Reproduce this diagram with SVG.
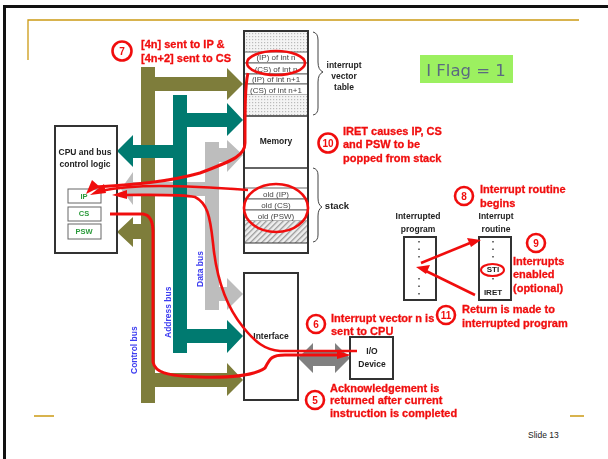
<svg xmlns="http://www.w3.org/2000/svg" width="608" height="459" viewBox="0 0 608 459">
<defs>
<pattern id="dots" width="3" height="3" patternUnits="userSpaceOnUse"><rect width="3" height="3" fill="#f4f4f4"/><rect width="1.2" height="1.2" fill="#bbb"/></pattern>
<pattern id="diag" width="4" height="4" patternUnits="userSpaceOnUse" patternTransform="rotate(45)"><rect width="4" height="4" fill="#eee"/><rect width="1.3" height="4" fill="#999"/></pattern>
<filter id="soft" x="-2%" y="-2%" width="104%" height="104%"><feGaussianBlur stdDeviation="0.45"/></filter>
</defs>
<style>
text{font-family:"Liberation Sans",Arial,sans-serif}
.box{fill:#fff;stroke:#333;stroke-width:2}
.cell{fill:#fff;stroke:#666;stroke-width:1}
.lbl{font-size:8.5px;font-weight:bold;fill:#222;text-anchor:middle}
.cellt{font-size:8px;fill:#444;text-anchor:middle}
.red{font-size:11px;font-weight:bold;fill:#f01010;stroke:#f01010;stroke-width:.3}
.num{font-size:10px;font-weight:bold;fill:#f01010;text-anchor:middle}
.bus{font-size:8.5px;font-weight:bold;fill:#3c3cf0}
.reg{font-size:7.5px;font-weight:bold;fill:#2a9a3a;text-anchor:middle}
.rl{fill:none;stroke:#f01010;stroke-width:2.6}
.rr{fill:#f01010}
</style>
<rect x="0" y="0" width="608" height="459" fill="#fff"/>
<path d="M4.5 459V6.5H608" fill="none" stroke="#111" stroke-width="3"/>
<path d="M28 60V20H579" fill="none" stroke="#cc9a14" stroke-width="1.3"/>
<path d="M34 416H54M570 416H584" fill="none" stroke="#cc9a14" stroke-width="1.5"/>
<text x="528" y="438" font-size="8.5" fill="#222">Slide 13</text>
<g filter="url(#soft)">
<g id="iflag"><rect x="420" y="55" width="93" height="28" fill="#9cf060"/><text x="466" y="76" font-size="16.5" fill="#5a6a80" text-anchor="middle" style="font-family:'DejaVu Sans',sans-serif">I Flag = 1</text></g>
<g id="connectors">
<path id="control-bus" fill="#7e7d3a" d="M141 67H155V77H227V68L243 84 227 100V91H155V373H227V363L243 380 227 396V387H155V403H141V239H133V247L117 232 133 217V224H141Z"/>
<path id="data-bus" fill="#bdbdbd" d="M205 142H219V148H227V140L243 155 227 172V162H219V287H227V278L243 294 227 310V301H219V310H205V196H133V205L121 189 133 172V182H205Z"/>
<path id="address-bus" fill="#007a70" d="M173 95H187V113H227V103L243 120 227 136V127H187V329H227V320L243 336 227 353V343H187V353H173V158H133V167L117 151 133 135V145H173Z"/>
<path id="io-arrows" fill="#808080" d="M298 358L313 343V351H335V343L350 358 335 373V366H313V373Z"/>
</g>
<g id="ivt">
<rect x="244" y="31" width="64" height="21" fill="url(#dots)"/>
<rect class="cell" x="244" y="52" width="64" height="11"/><text class="cellt" x="276" y="60">(IP) of int n</text>
<rect class="cell" x="244" y="63" width="64" height="11"/><text class="cellt" x="276" y="71.500">(CS) of int n</text>
<rect class="cell" x="244" y="74" width="64" height="10"/><text class="cellt" x="276" y="82">(IP) of int n+1</text>
<rect class="cell" x="244" y="84" width="64" height="11"/><text class="cellt" x="276" y="92.500">(CS) of int n+1</text>
<rect x="244" y="95" width="64" height="21" fill="url(#dots)"/>
</g>
<g id="memory"><rect x="244" y="116" width="64" height="52" fill="#fff"/><path d="M244 116H308M244 168H308" stroke="#333" stroke-width="1.500"/><text class="lbl" x="276" y="144">Memory</text></g>
<g id="stack">
<rect class="cell" x="244" y="188" width="64" height="11"/><text class="cellt" x="276" y="196.500">old (IP)</text>
<rect class="cell" x="244" y="199" width="64" height="11"/><text class="cellt" x="276" y="207.500">old (CS)</text>
<rect class="cell" x="244" y="210" width="64" height="11"/><text class="cellt" x="276" y="218.500">old (PSW)</text>
<rect x="244" y="221" width="64" height="22" fill="url(#diag)"/>
<path d="M244 243H308" stroke="#333"/>
<rect x="244" y="31" width="64" height="222" fill="none" stroke="#333" stroke-width="2"/>
</g>
<g id="cpu"><rect class="box" x="55" y="126" width="62" height="127"/><text class="lbl" x="85" y="155">CPU and bus</text><text class="lbl" x="85" y="167">control logic</text>
<rect class="cell" x="68" y="189" width="33" height="14"/><text class="reg" x="84" y="199">IP</text>
<rect class="cell" x="68" y="207" width="33" height="14"/><text class="reg" x="84" y="216">CS</text>
<rect class="cell" x="68" y="224" width="33" height="15"/><text class="reg" x="84" y="234">PSW</text></g>
<g id="interface"><rect class="box" x="244" y="273" width="54" height="127"/><text class="lbl" x="271" y="339">Interface</text></g>
<g id="io"><rect class="box" x="350" y="337" width="43" height="42"/><text class="lbl" x="372" y="354">I/O</text><text class="lbl" x="372" y="367">Device</text></g>
<text class="lbl" x="344" y="68">interrupt</text><text class="lbl" x="344" y="79">vector</text><text class="lbl" x="344" y="90">table</text>
<path d="M313 32Q318 33 318 40V62Q318 70 323 72Q318 74 318 82V108Q318 114 313 115M313 168Q318 169 318 175V198Q318 205 322 207Q318 209 318 216V235Q318 241 313 242" fill="none" stroke="#444"/>
<text class="lbl" x="337" y="209" style="font-size:9.500px">stack</text>
<text class="bus" transform="translate(137 374) rotate(-90)">Control bus</text>
<text class="bus" transform="translate(171 338) rotate(-90)">Address bus</text>
<text class="bus" transform="translate(203 287) rotate(-90)">Data bus</text>
<g id="programs">
<text class="lbl" x="418" y="219">Interrupted</text><text class="lbl" x="418" y="232">program</text>
<text class="lbl" x="496" y="219">Interrupt</text><text class="lbl" x="496" y="232">routine</text>
<rect class="box" x="404" y="237" width="32" height="63"/>
<rect class="box" x="479" y="237" width="32" height="63"/>
<path d="M419 241V260M419 278V298M493 241V262M493 278V285" stroke="#444" stroke-width="1.500" stroke-dasharray="1.500 6" fill="none"/>
<text class="lbl" x="493" y="272" style="font-size:8px">STI</text><text class="lbl" x="493" y="295" style="font-size:8px">IRET</text>
</g>
<g id="red">
<ellipse class="rl" cx="276" cy="63" rx="29" ry="12"/>
<ellipse class="rl" cx="276" cy="208" rx="32" ry="24"/>
<ellipse class="rl" cx="492.500" cy="270" rx="11.500" ry="6" style="stroke-width:2"/>
<path class="rl" style="stroke-width:3" d="M248 73C245 85 245 110 245 143C245 155 235 160 200 173C165 183 125 185 96 187"/>
<path class="rl" d="M248 190C220 188 190 186 160 186C135 186 115 188 100 191"/>
<path class="rl" d="M122 195C150 195 180 194 195 197C207 203 210 215 213 243C216 275 225 305 243 327C255 342 265 350 280 351H357"/>
<path class="rl" style="stroke-width:3" d="M110 214H143C150 215 153 222 153 232V362C155 372 165 376 200 377C230 378 255 375 265 368C270 358 272 355 285 355H340"/>
<path class="rr" d="M86 194L92 180 100 187ZM90 195L104 184 106 193ZM112 195L127 190 127 199ZM351 355L337 351 337 359Z"/>
<path class="rl" d="M421 263L470 243M475 295L426 271"/>
<path class="rr" d="M481 240L467 238 471 247ZM416 267L430 265 426 274Z"/>
<g id="c7"><circle class="rl" cx="122" cy="51" r="9.500"/><text class="num" x="122" y="55">7</text></g>
<text class="red" x="141" y="48">[4n] sent to IP &amp;</text><text class="red" x="141" y="62">[4n+2] sent to CS</text>
<g id="c10"><circle class="rl" cx="328" cy="143" r="9.500"/><text class="num" x="328" y="147">10</text></g>
<text class="red" x="343" y="135">IRET causes IP, CS</text><text class="red" x="343" y="148">and PSW to be</text><text class="red" x="343" y="162">popped from stack</text>
<g id="c8"><circle class="rl" cx="464" cy="196" r="9"/><text class="num" x="464" y="200">8</text></g>
<text class="red" x="480" y="193">Interrupt routine</text><text class="red" x="480" y="207">begins</text>
<g id="c9"><circle class="rl" cx="536" cy="243" r="9"/><text class="num" x="536" y="247">9</text></g>
<text class="red" x="513" y="265">Interrupts</text><text class="red" x="513" y="278">enabled</text><text class="red" x="513" y="292">(optional)</text>
<g id="c11"><circle class="rl" cx="446" cy="315" r="9"/><text class="num" x="446" y="319">11</text></g>
<text class="red" x="462" y="313">Return is made to</text><text class="red" x="462" y="327">interrupted program</text>
<g id="c6"><circle class="rl" cx="316" cy="324" r="9"/><text class="num" x="316" y="328">6</text></g>
<text class="red" x="331" y="322">Interrupt vector n is</text><text class="red" x="331" y="335">sent to CPU</text>
<g id="c5"><circle class="rl" cx="315" cy="400" r="9"/><text class="num" x="315" y="404">5</text></g>
<text class="red" x="330" y="392">Acknowledgement is</text><text class="red" x="330" y="404">returned after current</text><text class="red" x="330" y="417">instruction is completed</text>
</g>
</g>
</svg>
